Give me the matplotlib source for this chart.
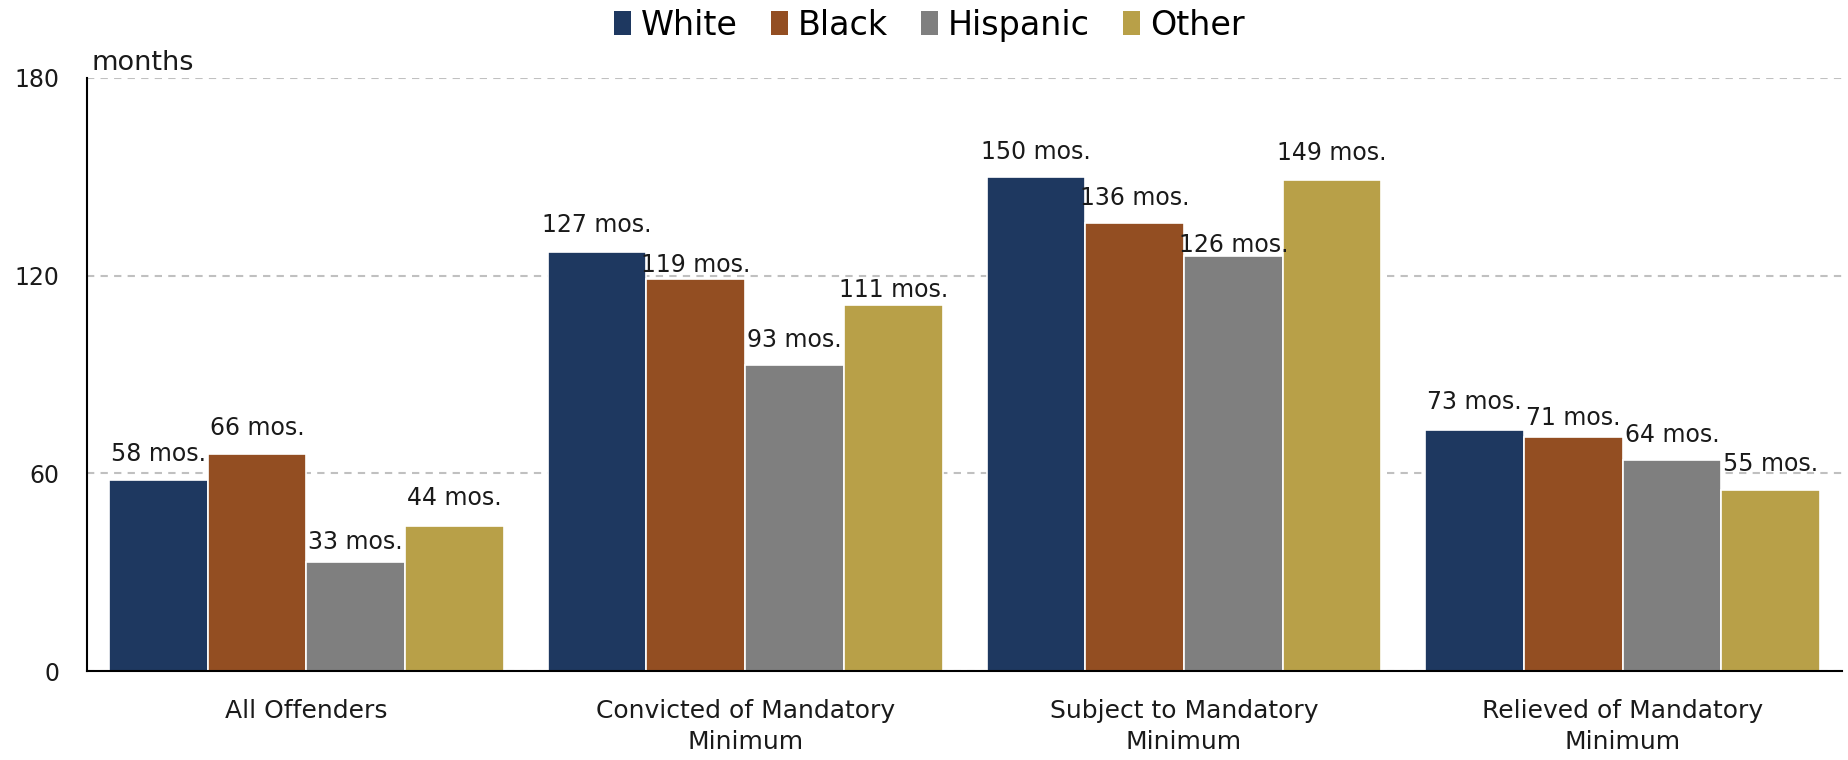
import matplotlib.pyplot as plt
import numpy as np
from matplotlib.patches import Patch

plt.rcParams['font.family'] = ['DejaVu Sans']

# data
categories = ["All Offenders", "Convicted of Mandatory\nMinimum",
              "Subject to Mandatory\nMinimum", "Relieved of Mandatory\nMinimum"]
series = ["White", "Black", "Hispanic", "Other"]
white = [58, 127, 150, 73]
black = [66, 119, 136, 71]
hispanic = [33, 93, 126, 64]
other = [44, 111, 149, 55]
values = [white, black, hispanic, other]
colors = ["#1E3860", "#934E22", "#7F7F7F", "#B8A048"]

# label nudges above bar top (pixels), as placed in the original
label_pad = [[19, 20, 18, 21],
             [19, 7, 18, 12],
             [13, 18, 4, 18],
             [21, 8, 20, 19]]

fig = plt.figure(figsize=(18.48, 7.6), dpi=100)
ax = fig.add_axes([0.0471, 0.1171, 0.9497, 0.7805])

x = np.arange(len(categories))
w = 0.225
for i in range(len(series)):
    pos = x + (i - 1.5) * w
    ax.bar(pos, values[i], width=w, color=colors[i], edgecolor="white",
           linewidth=1.2, zorder=3)
    for j in range(len(categories)):
        ax.annotate(str(values[i][j]) + " mos.", (pos[j], values[i][j]),
                    xytext=(0, label_pad[i][j] * 0.72), textcoords="offset points",
                    ha="center", va="baseline", fontsize=17, color="#1a1a1a",
                    zorder=4)

ax.set_xlim(-0.5, 3.5)
ax.set_ylim(0, 180)
ax.set_yticks([0, 60, 120, 180])
ax.set_xticks(x)
ax.set_xticklabels(categories, fontsize=18, color="#1a1a1a", linespacing=1.4)
ax.tick_params(axis="y", length=0, pad=20, labelsize=17, labelcolor="#1a1a1a")
ax.tick_params(axis="x", length=0, pad=20)

ax.yaxis.grid(True, color="#C0C0C0", linewidth=1.5, dashes=(3.5, 3), zorder=0)
for s in ["top", "right"]:
    ax.spines[s].set_visible(False)
ax.spines["left"].set_linewidth(1.5)
ax.spines["bottom"].set_linewidth(1.5)
ax.spines["left"].set_zorder(5)
ax.spines["bottom"].set_zorder(5)

ax.text(-0.49, 180.5, "months", ha="left", va="bottom", fontsize=19.5, color="#1a1a1a")

handles = [Patch(facecolor=c, edgecolor="none") for c in colors]
fig.legend(handles, series, loc="center", bbox_to_anchor=(0.503, 0.967), ncol=4,
           frameon=False, fontsize=24, handlelength=0.5, handleheight=0.75,
           handletextpad=0.3, columnspacing=1.0)

plt.savefig("out.png", dpi=100)
